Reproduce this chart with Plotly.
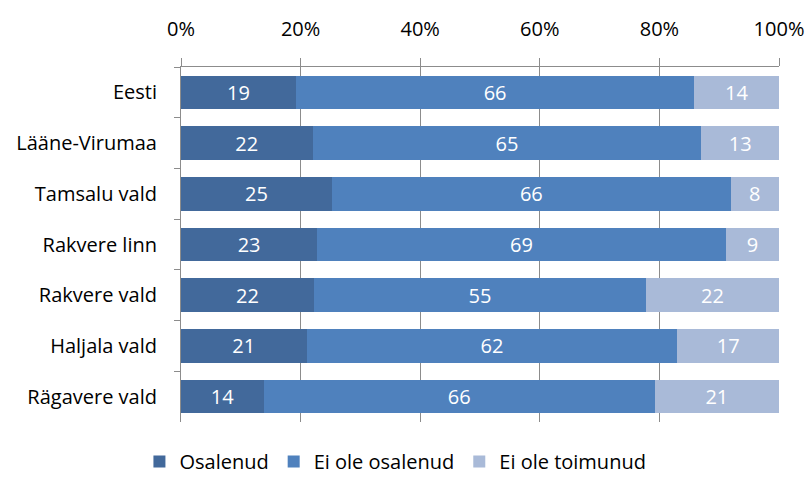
import plotly.graph_objects as go

regions = ["Eesti", "Lääne-Virumaa", "Tamsalu vald", "Rakvere linn",
           "Rakvere vald", "Haljala vald", "Rägavere vald"]
series_names = ["Osalenud", "Ei ole osalenud", "Ei ole toimunud"]
osalenud = [19, 22, 25, 23, 22, 21, 14]
ei_osalenud = [66, 65, 66, 69, 55, 62, 66]
ei_toimunud = [14, 13, 8, 9, 22, 17, 21]
colors = ["#42699b", "#4f81bd", "#a9bad8"]
x_ticks = [0, 20, 40, 60, 80, 100]
x_tick_labels = ["0%", "20%", "40%", "60%", "80%", "100%"]

FONT = "Open Sans, Calibri, sans-serif"
GRID = "#8c8c8c"

fig = go.Figure()
for name, vals, col in zip(series_names, [osalenud, ei_osalenud, ei_toimunud], colors):
    fig.add_trace(go.Bar(
        name=name, y=regions, x=vals, orientation="h",
        marker=dict(color=col, line=dict(width=0)),
        text=[str(v) for v in vals], textposition="inside",
        insidetextanchor="middle", constraintext="none",
        textfont=dict(color="white", size=20, family=FONT),
        hoverinfo="skip",
    ))

fig.update_layout(
    barmode="stack", barnorm="percent", bargap=0.34,
    width=807, height=481,
    margin=dict(l=181, r=28, t=67, b=59, autoexpand=False),
    paper_bgcolor="white", plot_bgcolor="white",
    font=dict(family=FONT, size=20, color="#000000"),
    showlegend=True,
    legend=dict(orientation="h", xref="container", x=0.49, xanchor="center",
                yref="container", y=-3 / 481, yanchor="bottom",
                font=dict(size=20, family=FONT), itemwidth=30,
                traceorder="normal"),
    xaxis=dict(side="top", range=[0, 100], tickvals=x_ticks,
               ticktext=x_tick_labels, showgrid=True, gridcolor=GRID,
               gridwidth=1, showline=True, linecolor=GRID, linewidth=1,
               ticks="outside", ticklen=8, tickcolor=GRID,
               ticklabelstandoff=14, zeroline=False, fixedrange=True),
    yaxis=dict(autorange="reversed", showline=True, linecolor=GRID,
               linewidth=1, ticks="outside", ticklen=6, tickcolor=GRID,
               tickson="boundaries", showgrid=False,
               ticklabelstandoff=19, fixedrange=True),
)

fig.write_html("out.html")
